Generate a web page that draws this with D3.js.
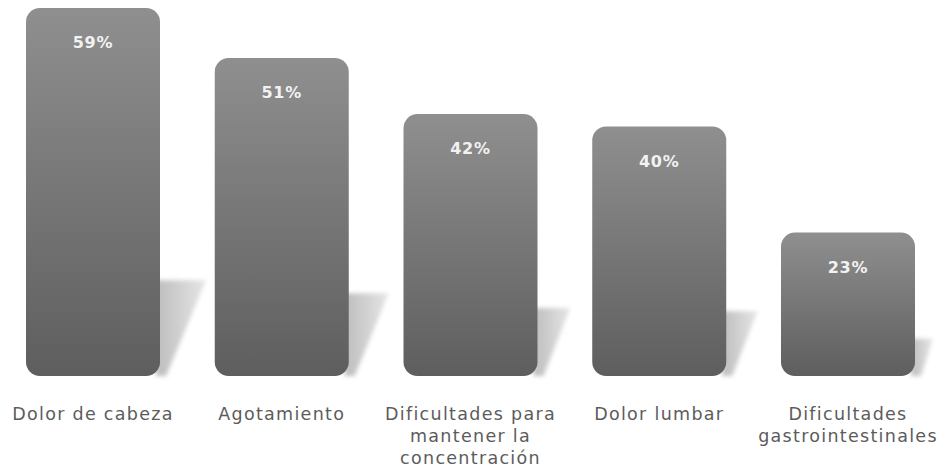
<!DOCTYPE html>
<html>
<head>
<meta charset="utf-8">
<script src="https://cdn.jsdelivr.net/npm/d3@7/dist/d3.min.js"></script>
<style>
  html, body { margin: 0; padding: 0; background: #ffffff; }
  svg { display: block; }
</style>
</head>
<body>
<svg id="chart" width="938" height="473"></svg>
<script>
// Symptoms and share of respondents reporting them (%)
const categories = [
  ["Dolor de cabeza"],
  ["Agotamiento"],
  ["Dificultades para", "mantener la", "concentración"],
  ["Dolor lumbar"],
  ["Dificultades", "gastrointestinales"]
];
const values = [59, 51, 42, 40, 23];
const valueLabels = values.map(v => v + "%");

const W = 938, H = 473;
const svg = d3.select("#chart");

const baseY = 376;
const x = d3.scaleBand()
  .domain(d3.range(values.length))
  .range([26, 915])
  .paddingInner(0.29)
  .paddingOuter(0);

const y = d3.scaleLinear().domain([0, 59]).range([baseY, 8]);

const defs = svg.append("defs");

const barGrad = defs.append("linearGradient")
  .attr("id", "barGrad").attr("x1", 0).attr("y1", 0).attr("x2", 0).attr("y2", 1);
barGrad.append("stop").attr("offset", "0%").attr("stop-color", "#8f8f8f");
barGrad.append("stop").attr("offset", "100%").attr("stop-color", "#5e5e5e");

const shadowGrad = defs.append("linearGradient")
  .attr("id", "shadowGrad").attr("x1", 0).attr("y1", 0).attr("x2", 1).attr("y2", 0);
shadowGrad.append("stop").attr("offset", "0%").attr("stop-color", "#bdbdbd");
shadowGrad.append("stop").attr("offset", "100%").attr("stop-color", "#e6e6e6");

defs.append("filter").attr("id", "soft")
  .attr("x", "-30%").attr("y", "-30%").attr("width", "160%").attr("height", "160%")
  .append("feGaussianBlur").attr("stdDeviation", 2);

const bw = x.bandwidth();

// Slanted floor shadows behind each bar
svg.append("g").selectAll("path")
  .data(values)
  .join("path")
  .attr("filter", "url(#soft)")
  .attr("fill", "url(#shadowGrad)")
  .attr("d", (d, i) => {
    const h = baseY - y(d);
    const sh = h * 0.26, sw = h * 0.125;
    const x0 = x(i) + bw - 4;
    return `M${x0},${baseY - sh} L${x0 + sw + 4},${baseY - sh} L${x0 + 10},${baseY} L${x0},${baseY} Z`;
  });

// Bars
svg.append("g").selectAll("rect")
  .data(values)
  .join("rect")
  .attr("x", (d, i) => x(i))
  .attr("y", d => y(d))
  .attr("width", bw)
  .attr("height", d => baseY - y(d))
  .attr("rx", 14).attr("ry", 14)
  .attr("fill", "url(#barGrad)");

// Value labels inside bars
svg.append("g").selectAll("text")
  .data(values)
  .join("text")
  .attr("x", (d, i) => x(i) + bw / 2)
  .attr("y", d => y(d) + 40)
  .attr("text-anchor", "middle")
  .attr("font-family", "'DejaVu Sans', Verdana, sans-serif")
  .attr("font-weight", 700)
  .attr("font-size", 16)
  .attr("letter-spacing", 0.8)
  .attr("fill", "#f2f2f2")
  .text((d, i) => valueLabels[i]);

// Category labels
const lab = svg.append("g").selectAll("text")
  .data(categories)
  .join("text")
  .attr("x", (d, i) => x(i) + bw / 2)
  .attr("y", 420)
  .attr("text-anchor", "middle")
  .attr("font-family", "'DejaVu Sans', Verdana, sans-serif")
  .attr("font-size", 17.5)
  .attr("letter-spacing", 1.3)
  .attr("fill", "#5c5c5c");
lab.selectAll("tspan")
  .data(d => d)
  .join("tspan")
  .attr("x", function () { return this.parentNode.getAttribute("x"); })
  .attr("dy", (d, j) => j === 0 ? 0 : 22)
  .text(d => d);
</script>
</body>
</html>
